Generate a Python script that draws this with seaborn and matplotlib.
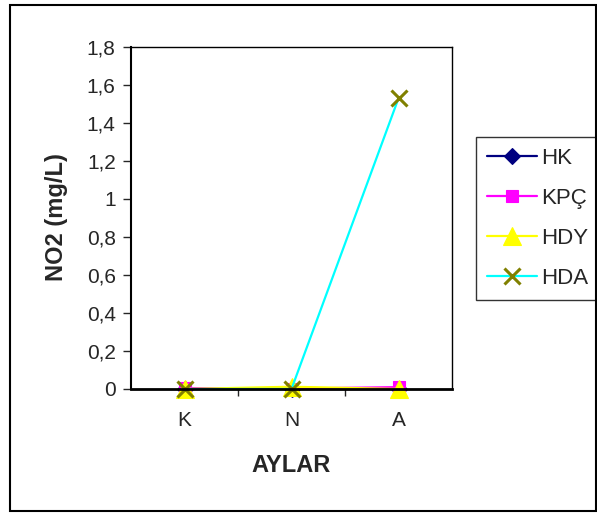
import matplotlib
matplotlib.use("Agg")
import matplotlib.pyplot as plt
import seaborn as sns
import pandas as pd
from matplotlib.patches import Rectangle
from matplotlib.ticker import FuncFormatter, FixedLocator
from matplotlib.transforms import blended_transform_factory

months = ["K", "N", "A"]
HK = [0.0, 0.0, 0.0]
KPC = [0.005, 0.002, 0.01]
HDY = [0.0, 0.012, 0.0]
HDA = [0.0, 0.0, 1.53]
series_names = ["HK", "KPÇ", "HDY", "HDA"]
yticks = [0, 0.2, 0.4, 0.6, 0.8, 1.0, 1.2, 1.4, 1.6, 1.8]

rows = []
for name, vals in zip(series_names, [HK, KPC, HDY, HDA]):
    for i, (m, v) in enumerate(zip(months, vals)):
        rows.append({"Ay": i, "Seri": name, "NO2": v})
df = pd.DataFrame(rows)

sns.set_style("white")
plt.rcParams["font.family"] = ["Liberation Sans", "DejaVu Sans"]

fig = plt.figure(figsize=(5.97, 5.13), dpi=100)
ax = fig.add_axes([131/597, 1-389/513, (452-131)/597, (389-47)/513])

palette = {"HK": "#000080", "KPÇ": "#FF00FF", "HDY": "#FFFF00", "HDA": "#00FFFF"}
markers = {"HK": "D", "KPÇ": "s", "HDY": "^", "HDA": "x"}
msizes = {"HK": 8, "KPÇ": 9, "HDY": 13, "HDA": 12}

for name in series_names:
    sub = df[df["Seri"] == name]
    sns.lineplot(data=sub, x="Ay", y="NO2", ax=ax, color=palette[name], lw=1.6,
                 marker=markers[name], markersize=msizes[name],
                 markeredgewidth=2.2 if name == "HDA" else 0.8,
                 markeredgecolor="#808000" if name == "HDA" else palette[name],
                 markerfacecolor=palette[name], label=name, clip_on=False)

ax.set_xlim(-0.5, 2.5)
ax.set_ylim(0, 1.8)
ax.set_yticks(yticks)
ax.yaxis.set_major_formatter(FuncFormatter(lambda v, p: ("%g" % round(v, 1)).replace(".", ",")))
ax.xaxis.set_major_locator(FixedLocator([0.5, 1.5]))
ax.xaxis.set_major_formatter(FuncFormatter(lambda v, p: ""))
trans = blended_transform_factory(ax.transData, fig.transFigure)
for i, m in enumerate(months):
    ax.text(i, 1-421/513, m, ha="center", va="center", fontsize=15, transform=trans)
ax.tick_params(axis="y", direction="out", length=6, width=1, labelsize=15, pad=5, left=True)
ax.tick_params(axis="x", direction="out", length=5, width=1, bottom=True)
for s in ax.spines.values():
    s.set_color("black")
    s.set_linewidth(1)
ax.spines["left"].set_linewidth(1.5)
ax.spines["bottom"].set_linewidth(2)

ax.set_ylabel("")
ax.set_xlabel("")
fig.text(57/597, 1-217/513, "NO2 (mg/L)", rotation=90, ha="center", va="center", fontsize=17, fontweight="bold")
fig.text(291/597, 1-466/513, "AYLAR", ha="center", va="center", fontsize=17, fontweight="bold")

leg = ax.legend(loc="upper left", bbox_to_anchor=((476-131)/(452-131), (389-137)/(389-47)),
                frameon=True, fancybox=False, fontsize=16, handlelength=2.25, labelspacing=0.85,
                borderpad=0.5, handletextpad=0.2, borderaxespad=0)
leg.get_frame().set_edgecolor("black")
leg.get_frame().set_linewidth(1)

fig.patches.append(Rectangle((10/597, 1-511/513), (596-10)/597, (511-5)/513, transform=fig.transFigure,
                             fill=False, edgecolor="black", lw=1.5))

fig.savefig("out.png", dpi=100)
